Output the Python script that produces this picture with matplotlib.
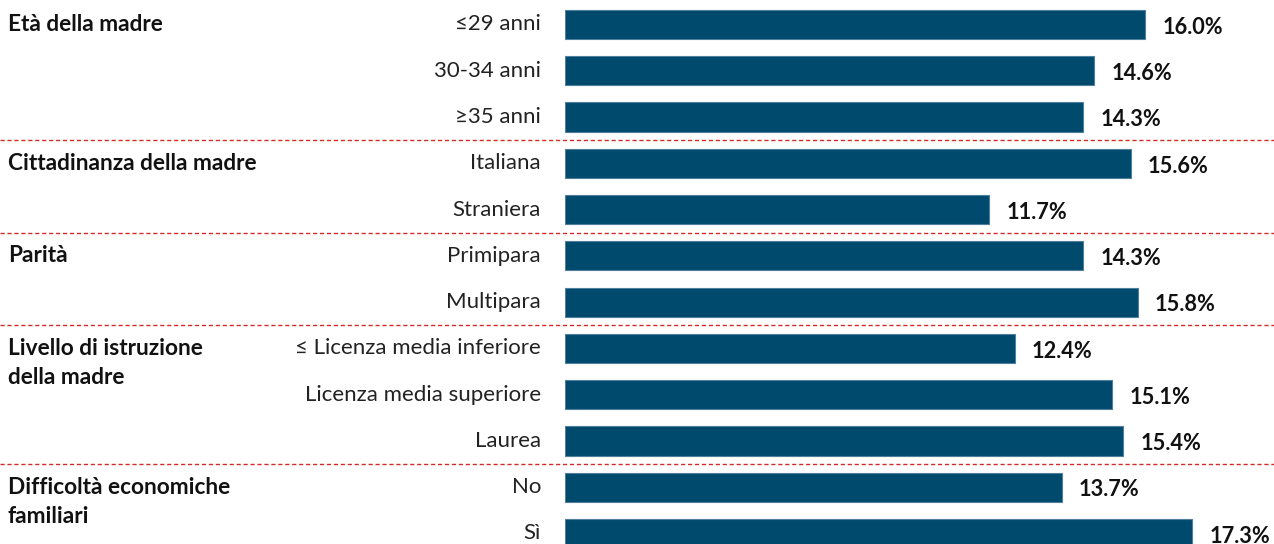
import matplotlib
matplotlib.use("Agg")
import matplotlib.pyplot as plt
import matplotlib.transforms as mtransforms
from matplotlib.lines import Line2D

plt.rcParams['font.family'] = ['Lato', 'DejaVu Sans']

categorie = ["≤29 anni", "30-34 anni", "≥35 anni",
             "Italiana", "Straniera",
             "Primipara", "Multipara",
             "≤ Licenza media inferiore", "Licenza media superiore", "Laurea",
             "No", "Sì"]
valori = [16.0, 14.6, 14.3, 15.6, 11.7, 14.3, 15.8, 12.4, 15.1, 15.4, 13.7, 17.3]
etichette_valori = ["16.0%", "14.6%", "14.3%", "15.6%", "11.7%", "14.3%",
                    "15.8%", "12.4%", "15.1%", "15.4%", "13.7%", "17.3%"]
gruppi = ["Età della madre", "Cittadinanza della madre", "Parità",
          "Livello di istruzione\ndella madre", "Difficoltà economiche\nfamiliari"]
gruppi_inizio = [0, 3, 5, 7, 10]

W, H = 1274, 544
fig = plt.figure(figsize=(W / 100, H / 100), dpi=100)
ax = fig.add_axes([565 / W, 0, 1 - 565 / W, 1])

colore = "#004a6d"
y = list(range(len(valori)))
ax.barh(y, valori, height=0.63, color=colore, edgecolor="#4f7f9c", linewidth=0.8)

ax.set_xlim(0, (W - 565) / 36.25)
passo = 46.27
ax.set_ylim((H - 24.5) / passo, -24.5 / passo)
ax.axis("off")

for yi, v, lab in zip(y, valori, etichette_valori):
    ax.annotate(lab, (v, yi), xytext=(12.5, -2), textcoords="offset points",
                ha="left", va="center", fontsize=15.7, fontweight="bold", color="#111111")

trans = mtransforms.blended_transform_factory(fig.transFigure, ax.transData)
for yi, c in zip(y, categorie):
    fig.text(541 / W, yi, c, transform=trans, ha="right", va="center",
             fontsize=16, color="#222222")

for g, s in zip(gruppi, gruppi_inizio):
    if "\n" in g:
        fig.text(8 / W, s + 0.32, g, transform=trans, ha="left", va="center",
                 fontsize=16.3, fontweight="bold", color="#111111", linespacing=1.5)
    else:
        fig.text(8 / W, s, g, transform=trans, ha="left", va="center",
                 fontsize=16.3, fontweight="bold", color="#111111")

for s in gruppi_inizio[1:]:
    fig.add_artist(Line2D([0, 1], [s - 0.5, s - 0.5], transform=trans,
                          color="#d62a2a", linestyle=(0, (3, 2)), linewidth=1))

fig.savefig("out.png", dpi=100)
